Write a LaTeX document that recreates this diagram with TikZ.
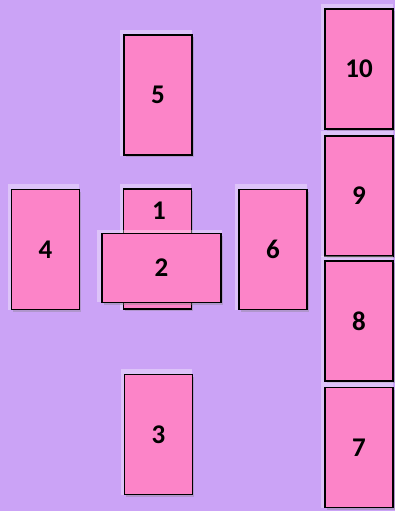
\documentclass[tikz,border=0pt]{standalone}
\usepackage{fontspec}
\setmainfont{Carlito}
\usetikzlibrary{shadows}
\definecolor{lavender}{RGB}{203,163,246}
\definecolor{cardpink}{RGB}{252,132,200}
\tikzset{
  cardnum/.style={font=\fontsize{27}{27}\selectfont\bfseries,inner sep=0pt},
  card/.style={cardnum,draw=black,line width=1.1pt,fill=cardpink,
    minimum width=68pt,minimum height=120pt,
    general shadow={fill=white,opacity=0.35,shadow xshift=-2pt,shadow yshift=2pt,
      shadow scale=1.05},
    drop shadow={shadow xshift=1.5pt,shadow yshift=-2pt,opacity=0.35}},
  crosscard/.style={card,minimum width=119pt,minimum height=69pt}
}
\begin{document}
\begin{tikzpicture}[x=1pt,y=-1pt,line join=miter]
  \fill[lavender] (0,0) rectangle (395,511);
  \useasboundingbox (0,0) rectangle (395,511);
  % the cross
  \node[card] (c5) at (158,95) {5};
  \node[card] (c1) at (157.5,249) {};
  \node[cardnum] (n1) at (159,211) {1};
  \node[crosscard] (c2) at (161.5,268) {2};
  \node[card] (c3) at (158.5,434.5) {3};
  \node[card] (c4) at (45.5,249.5) {4};
  \node[card] (c6) at (273,249.5) {6};
  % the staff
  \node[card] (c10) at (359,69) {10};
  \node[card] (c9) at (359,196) {9};
  \node[card] (c8) at (359,321) {8};
  \node[card] (c7) at (359,447.5) {7};
\end{tikzpicture}
\end{document}
